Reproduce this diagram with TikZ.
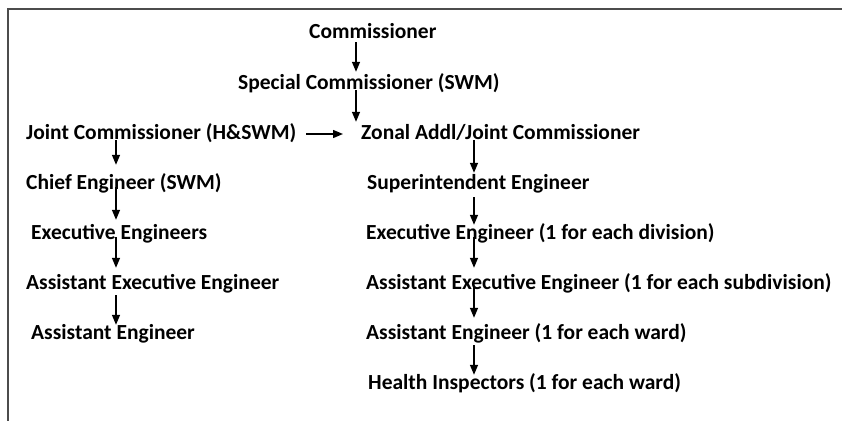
\documentclass[tikz,border=0pt]{standalone}
\usepackage{fontspec}
\setmainfont{Carlito}
\usetikzlibrary{arrows.meta}
\tikzset{
  lbl/.style={anchor=base west, inner sep=0pt, font=\bfseries\fontsize{21.5}{24}\selectfont, text height=15pt, text depth=5pt},
  arr/.style={-{Triangle[length=10pt,width=8pt]}, line width=1.4pt},
  frame/.style={draw=black!70, line width=2pt}
}
\begin{document}
\begin{tikzpicture}[x=1pt,y=-1pt]
\useasboundingbox (0,0) rectangle (842,420);
\draw[frame] (8,430) -- (8,9) -- (860,9);
% nodes (baseline = row centre + 7)
\node[lbl] (com) at (309,39) {Commissioner};
\node[lbl] (spc) at (238,89) {Special Commissioner (SWM)};
\node[lbl] (jc) at (26,139) {Joint Commissioner (H\&SWM)};
\node[lbl] (zc) at (361,139) {Zonal Addl/Joint Commissioner};
\node[lbl] (ce) at (26,189) {Chief Engineer (SWM)};
\node[lbl] (ee) at (31,239) {Executive Engineers};
\node[lbl] (aee) at (26,289) {Assistant Executive Engineer};
\node[lbl] (ae) at (31,339) {Assistant Engineer};
\node[lbl] (se) at (367,189) {Superintendent Engineer};
\node[lbl] (ree) at (366,239) {Executive Engineer (1 for each division)};
\node[lbl] (raee) at (366,289) {Assistant Executive Engineer (1 for each subdivision)};
\node[lbl] (rae) at (366,339) {Assistant Engineer (1 for each ward)};
\node[lbl] (hi) at (368,389) {Health Inspectors (1 for each ward)};
% column coordinates
\coordinate (mx) at (356,0);
\coordinate (lx) at (116,0);
\coordinate (rx) at (474,0);
% arrows
\draw[arr] ([yshift=2pt]com.south -| mx) -- ([yshift=2pt]spc.north -| mx);
\draw[arr] ([yshift=4pt]spc.south -| mx) -- ([yshift=2pt]zc.north -| mx);
\draw[arr] ([xshift=10pt]jc.east) -- ([xshift=-18pt]zc.west);
\draw[arr] ([yshift=4pt]jc.south -| lx) -- ([yshift=9pt]ce.north -| lx);
\draw[arr] ([yshift=7pt]ce.south -| lx) -- ([yshift=4pt]ee.north -| lx);
\draw[arr] ([yshift=7pt]ee.south -| lx) -- ([yshift=6pt]aee.north -| lx);
\draw[arr] ([yshift=-1pt]aee.south -| lx) -- ([yshift=-1pt]ae.north -| lx);
\draw[arr] ([yshift=4pt]zc.south -| rx) -- ([yshift=1pt]se.north -| rx);
\draw[arr] ([yshift=-3pt]se.south -| rx) -- ([yshift=-1pt]ree.north -| rx);
\draw[arr] ([yshift=7pt]ree.south -| rx) -- ([yshift=6pt]raee.north -| rx);
\draw[arr] ([yshift=7pt]raee.south -| rx) -- ([yshift=6pt]rae.north -| rx);
\draw[arr] ([yshift=-1pt]rae.south -| rx) -- ([yshift=-1pt]hi.north -| rx);
\end{tikzpicture}
\end{document}
